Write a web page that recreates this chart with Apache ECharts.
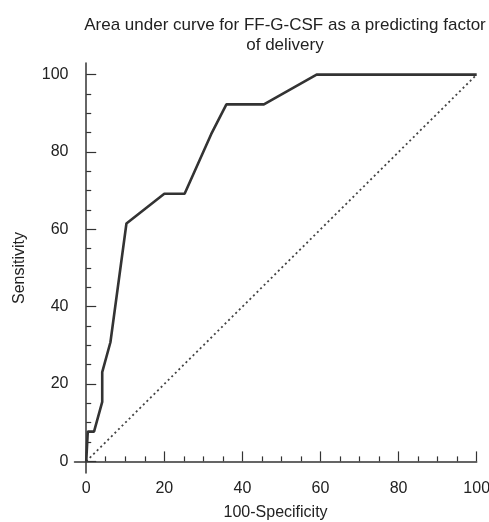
<!DOCTYPE html>
<html>
<head>
<meta charset="utf-8">
<script src="https://cdn.jsdelivr.net/npm/echarts@6/dist/echarts.min.js"></script>
<style>html,body{margin:0;padding:0;background:#fff}#c{width:489px;height:522px}</style>
</head>
<body>
<div id="c"></div>
<script>
var titleText = 'Area under curve for FF-G-CSF as a predicting factor\nof delivery';
var xName = '100-Specificity';
var yName = 'Sensitivity';
var rocX = [0, 0.4, 2, 4.1, 4.1, 6.2, 10.3, 20, 25.2, 32, 35.9, 45.5, 59, 100];
var rocY = [0, 7.7, 7.7, 15.4, 23.1, 30.8, 61.5, 69.2, 69.2, 84.6, 92.3, 92.3, 100, 100];
var refX = [0, 100];
var refY = [0, 100];
var majorTicks = [0, 20, 40, 60, 80, 100];
var minorTicks = [5, 10, 15, 25, 30, 35, 45, 50, 55, 65, 70, 75, 85, 90, 95];

var FONT = 'Liberation Sans, Arial, sans-serif';
var AX = '#333';
function pairs(xs, ys){ return xs.map(function(x,i){ return [x, ys[i]]; }); }

function mkAxis(isX, major, withLabel){
  return {
    type: 'value',
    min: -3, max: isX ? 100 : 103,
    position: isX ? 'bottom' : 'left',
    name: withLabel ? (isX ? xName : yName) : '',
    nameLocation: 'middle',
    nameGap: isX ? 32 : 47,
    nameTextStyle: {fontFamily: FONT, fontSize: 16, color: '#222'},
    axisLine: {show: withLabel, lineStyle: {color: AX, width: 1.5}},
    axisTick: {show: true, inside: true, length: major ? 10 : 5, customValues: major ? majorTicks : minorTicks, lineStyle: {color: AX, width: 1.2}},
    axisLabel: {show: withLabel, customValues: majorTicks, fontFamily: FONT, fontSize: 16, color: '#222', margin: isX ? 8 : 6},
    splitLine: {show: false}
  };
}

var chart = echarts.init(document.getElementById('c'), null, {renderer: 'canvas'});
chart.setOption({
  backgroundColor: '#fff',
  animation: false,
  title: {
    text: titleText, left: 280, top: 10, textAlign: 'center',
    textStyle: {fontFamily: FONT, fontSize: 17, fontWeight: 'normal', color: '#222', lineHeight: 20}
  },
  grid: {left: 74.5, right: 12.3, top: 63, bottom: 49, containLabel: false, outerBoundsMode: 'none'},
  xAxis: [mkAxis(true, true, true), mkAxis(true, false, false)],
  yAxis: [mkAxis(false, true, true), mkAxis(false, false, false)],
  series: [
    {type: 'line', data: pairs(refX, refY), symbol: 'none', lineStyle: {color: '#444', width: 1.8, type: [2, 3]}, silent: true},
    {type: 'line', data: pairs(rocX, rocY), symbol: 'none', lineStyle: {color: '#333', width: 2.6}, silent: true}
  ]
});
</script>
</body>
</html>
